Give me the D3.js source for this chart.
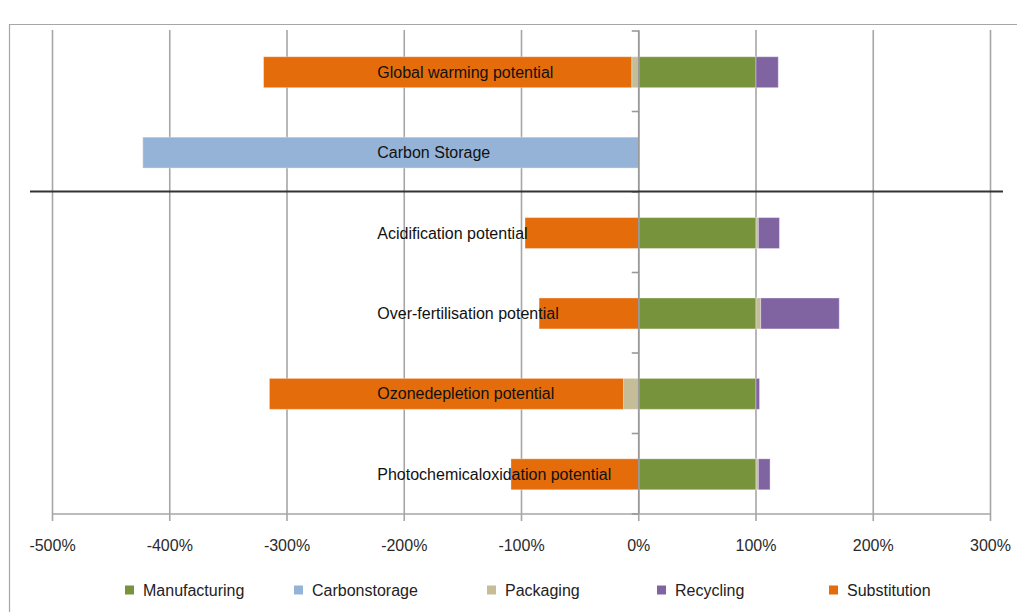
<!DOCTYPE html>
<html><head><meta charset="utf-8">
<script src="https://cdn.jsdelivr.net/npm/d3@7"></script>
<style>body{margin:0;background:#fff}svg{display:block;font-family:"Liberation Sans",Arial,sans-serif}</style>
</head><body><svg id="c" width="1017" height="612"></svg>
<script>
const categories = ["Global warming potential","Carbon Storage","Acidification potential","Over-fertilisation potential","Ozonedepletion potential","Photochemicaloxidation potential"];
const seriesNames = ["Manufacturing","Carbonstorage","Packaging","Recycling","Substitution"];
const manufacturing = [100, 0, 100, 100, 100, 100];
const carbonstorage = [0, -423, 0, 0, 0, 0];
const packaging = [-6, 0, 2, 4, -13, 2];
const recycling = [19, 0, 18, 67, 3, 10];
const substitution = [-314, 0, -97, -85, -302, -109];
const xTicks = [-500,-400,-300,-200,-100,0,100,200,300];
const colors = ["#77933c","#95b3d7","#c4bd97","#8064a2","#e46c0a"];

const svg = d3.select("#c");
const W = 1017, H = 612;
const x = d3.scaleLinear().domain([-500,300]).range([52.5,990.5]);
const y = d3.scaleBand().domain(categories).range([32,514.5]).paddingInner(0.615).paddingOuter(0.3075);

// frame
svg.append("path").attr("d",`M9.5,${H}V24.5H${W}`).attr("fill","none").attr("stroke","#a6a6a6").attr("stroke-width",1.2);

// gridlines
svg.append("g").selectAll("line").data(xTicks).join("line")
  .attr("x1",d=>x(d)).attr("x2",d=>x(d)).attr("y1",30).attr("y2",521)
  .attr("stroke","#a6a6a6").attr("stroke-width",1.6);
// bottom axis line
svg.append("line").attr("x1",x(-500)).attr("x2",x(300)).attr("y1",514).attr("y2",514)
  .attr("stroke","#a6a6a6").attr("stroke-width",1.6);

// x tick labels
svg.append("g").selectAll("text").data(xTicks).join("text")
  .attr("x",d=>x(d)).attr("y",551).attr("text-anchor","middle")
  .attr("font-size",16).attr("fill","#2a2a2a").text(d=>d+"%");

// stacked data
const rows = categories.map((c,i)=>({cat:c, Manufacturing:manufacturing[i], Carbonstorage:carbonstorage[i], Packaging:packaging[i], Recycling:recycling[i], Substitution:substitution[i]}));
const stack = d3.stack().keys(seriesNames).offset(d3.stackOffsetDiverging)(rows);

svg.append("g").selectAll("g").data(stack).join("g")
  .attr("fill",(d,i)=>colors[i])
  .selectAll("rect").data(d=>d.filter(v=>v[1]!==v[0])).join("rect")
  .attr("x",d=>x(Math.min(d[0],d[1]))).attr("width",d=>Math.abs(x(d[1])-x(d[0])))
  .attr("y",d=>y(d.data.cat)).attr("height",y.bandwidth())
  .attr("stroke","#ffffff").attr("stroke-opacity",0.35).attr("stroke-width",1);

// zero axis with ticks at band boundaries
svg.append("line").attr("x1",x(0)).attr("x2",x(0)).attr("y1",31).attr("y2",514)
  .attr("stroke","#999").attr("stroke-width",1.6);
const step = (514-31)/categories.length;
const bounds = d3.range(categories.length+1).map(i=>31 + i*step);
svg.append("g").selectAll("line").data(bounds).join("line")
  .attr("x1",x(0)-7).attr("x2",x(0)).attr("y1",d=>d).attr("y2",d=>d)
  .attr("stroke","#999").attr("stroke-width",1.6);

// middle black line with shadow
svg.append("defs").append("filter").attr("id","sh").attr("x","-5%").attr("y","-200%").attr("width","110%").attr("height","500%")
  .append("feGaussianBlur").attr("stdDeviation",1.5);
svg.append("line").attr("x1",30).attr("x2",1003).attr("y1",194).attr("y2",194)
  .attr("stroke","#000").attr("stroke-opacity",0.25).attr("stroke-width",3).attr("filter","url(#sh)");
svg.append("line").attr("x1",30).attr("x2",1003).attr("y1",191.5).attr("y2",191.5)
  .attr("stroke","#333").attr("stroke-width",2);

// category labels
svg.append("g").selectAll("text").data(categories).join("text")
  .attr("x",x(-223)).attr("y",d=>y(d)+y.bandwidth()/2+5.5)
  .attr("font-size",16).attr("fill","#111").text(d=>d);

// legend
const legendX = [125,294,487,657,829];
const lg = svg.append("g").selectAll("g").data(seriesNames).join("g")
  .attr("transform",(d,i)=>`translate(${legendX[i]},590)`);
lg.append("rect").attr("x",0).attr("y",-4.5).attr("width",9).attr("height",9).attr("fill",(d,i)=>colors[i]);
lg.append("text").attr("x",18).attr("y",5.5).attr("font-size",16).attr("fill","#222").text(d=>d);
</script></body></html>
